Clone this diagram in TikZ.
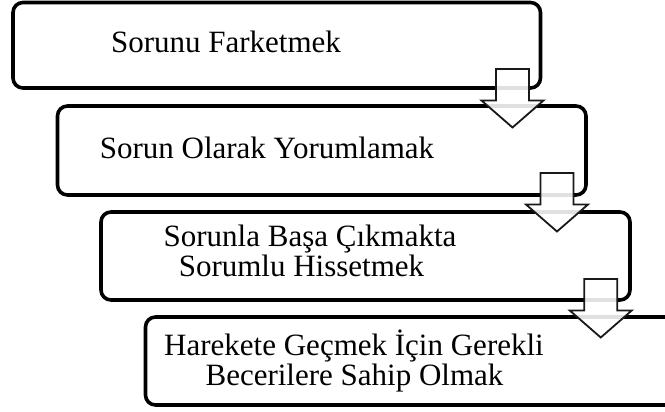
\documentclass[tikz,border=0pt]{standalone}
\usepackage{fontspec}
\setmainfont{Liberation Serif}
\begin{document}
\begin{tikzpicture}[x=1pt,y=-1pt,
  box/.style={draw=black, line width=3.6pt, rounded corners=10pt, rectangle, inner sep=0pt, fill=white},
  txt/.style={anchor=base, inner sep=0pt, font=\fontsize{31}{30}\selectfont},
  arrowstyle/.style={draw=black!90, line width=1.8pt, fill=white, fill opacity=0.88, line join=miter},
  downarrow/.pic={\draw[arrowstyle] (-16.5,0) -- (16.5,0) -- (16.5,31.5) -- (31,31.5) -- (0,58.5) -- (-31,31.5) -- (-16.5,31.5) -- cycle;}
]
\useasboundingbox (0,0) rectangle (665,412);
\clip (0,0) rectangle (665,412);
% boxes
\node[box, minimum width=527.5pt, minimum height=85.5pt] (b1) at (276.75,45.25) {};
\node[box, minimum width=528.5pt, minimum height=89pt] (b2) at (321.75,150.5) {};
\node[box, minimum width=529pt, minimum height=88pt] (b3) at (365.5,256) {};
\node[box, minimum width=529pt, minimum height=88pt] (b4) at (410,361) {};
% texts
\node[txt] (t1) at (226,53) {Sorunu Farketmek};
\node[txt] (t2) at (267,158) {Sorun Olarak Yorumlamak};
\node[txt] (t3a) at (310,246) {Sorunla Başa Çıkmakta};
\node[txt] (t3b) at (301.5,276) {Sorumlu Hissetmek};
\node[txt] (t4a) at (354,355) {Harekete Geçmek İçin Gerekli};
\node[txt] (t4b) at (354.5,385) {Becerilere Sahip Olmak};
% block arrows
\pic at (512.5,69) {downarrow};
\pic at (557,173) {downarrow};
\pic at (600.75,279) {downarrow};
\end{tikzpicture}
\end{document}
